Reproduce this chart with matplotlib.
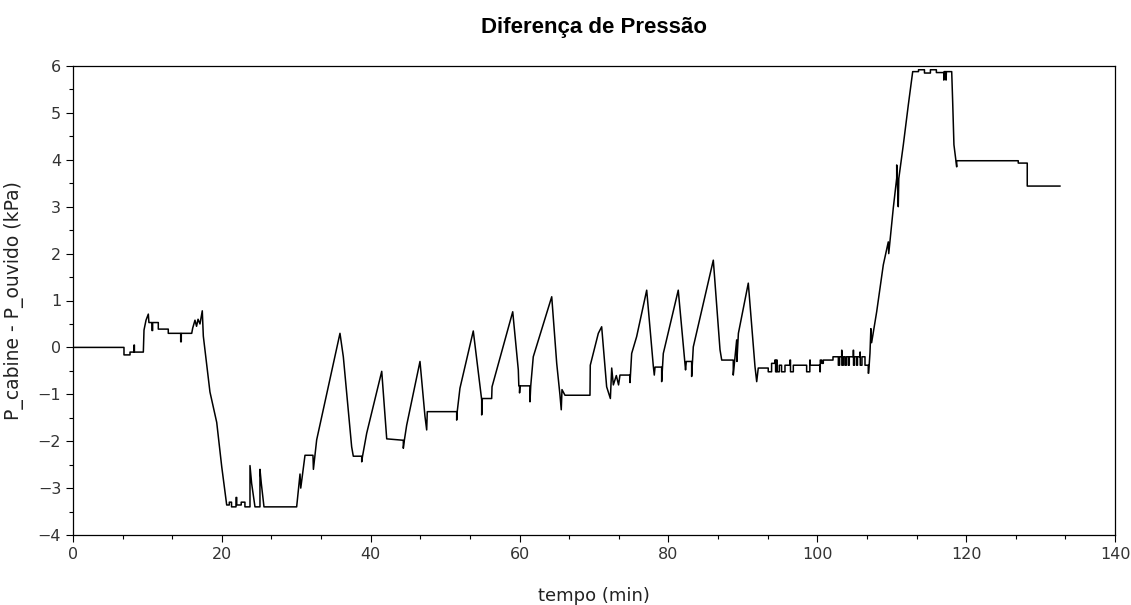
import matplotlib
matplotlib.use("Agg")
import matplotlib.pyplot as plt
from matplotlib.ticker import MultipleLocator

plt.rcParams['font.family'] = ['DejaVu Sans']

# vertices (tempo in min, dP in kPa)
tempo = [
    0, 6.85, 6.85, 7.66, 7.66, 8.2, 8.2, 8.25, 8.25, 9.45, 9.54, 9.81, 10.12, 10.2,
    10.61, 10.61, 10.7, 10.7, 11.46, 11.46, 12.8, 12.8, 14.47, 14.47, 14.55, 14.55,
    15.95, 16.08, 16.39, 16.6, 16.8, 17.06, 17.37, 17.51, 18.4, 19.31, 19.98, 20.65,
    21.0, 21.0, 21.3, 21.3, 21.9, 21.9, 22.0, 22.0, 22.6, 22.6, 23.1, 23.1,
    23.78, 23.78, 24.0, 24.45, 25.12, 25.12, 25.3, 25.66,
    30.05, 30.5, 30.6, 31.17, 32.24, 32.3, 32.74, 35.87, 36.32, 37.44, 37.66, 38.79,
    38.79, 38.9, 39.46, 41.48, 42.15, 44.38, 44.38, 44.5, 44.83, 46.62, 47.29, 47.52,
    47.6, 51.55, 51.55, 51.6, 51.99, 53.78, 54.91, 54.91, 55.0, 56.25, 56.3, 59.08,
    59.83, 59.9, 60.0, 60.0, 60.05, 61.4, 61.4, 61.5, 61.84, 63.64, 64.32, 64.99,
    65.43, 65.6, 65.7, 66.1, 69.46, 69.5, 70.58, 71.03, 71.7, 72.2, 72.38, 72.6,
    73.0, 73.3, 73.49, 74.84, 74.84, 75.06, 75.73, 77.08, 77.97, 78.1, 78.2, 79.09,
    79.09, 79.31, 81.32, 82.23, 82.3, 82.4, 83.12, 83.12, 83.34, 86.03, 86.93, 87.16,
    88.71, 88.71, 89.17, 89.2, 89.4, 90.73, 91.63, 91.86, 92.07,
    93.41, 93.41, 93.86, 93.86, 94.3, 94.3, 94.4, 94.4, 94.5, 94.5, 94.6, 94.6,
    94.9, 94.9, 95.2, 95.2, 95.66, 95.66, 96.33, 96.33, 96.4, 96.4, 96.78, 96.78,
    98.57, 98.57, 99.0, 99.0, 99.05, 99.05, 100.36, 100.36, 100.4, 100.4, 100.6,
    100.6, 100.81, 100.81, 102.11, 102.11, 102.83, 102.83, 103.0, 103.0, 103.28,
    103.28, 103.3, 103.3, 103.5, 103.5, 103.72, 103.72, 103.9, 103.9, 104.17, 104.17,
    104.3, 104.3, 104.84, 104.84, 104.87, 104.87, 105.0, 105.0, 105.29, 105.29, 105.4,
    105.4, 105.74, 105.74, 105.77, 105.77, 106.0, 106.0, 106.41, 106.41, 106.85,
    106.85, 106.9, 107.08, 107.2, 107.3, 107.98, 108.87, 109.54, 109.6, 110.21,
    110.67, 110.67, 110.75, 110.88, 110.95, 111.56, 112.23, 112.82,
    113.6, 113.6, 114.4, 114.4, 115.2, 115.2, 116.0, 116.0, 117.0, 117.0,
    117.05, 117.3, 117.3, 117.35, 118.06, 118.19, 118.36, 118.73, 118.73, 127.0,
    127.0, 128.21, 128.21, 132.6,
]
dp = [
    0, 0, -0.16, -0.16, -0.1, -0.1, 0.05, 0.05, -0.1, -0.1, 0.37, 0.58, 0.71, 0.53,
    0.53, 0.36, 0.36, 0.53, 0.53, 0.39, 0.39, 0.3, 0.3, 0.12, 0.12, 0.3,
    0.3, 0.41, 0.58, 0.45, 0.6, 0.5, 0.78, 0.24, -0.95, -1.6, -2.54, -3.36,
    -3.36, -3.3, -3.3, -3.4, -3.4, -3.2, -3.2, -3.36, -3.36, -3.3, -3.3, -3.4,
    -3.4, -2.52, -2.9, -3.4, -3.4, -2.6, -2.9, -3.4,
    -3.4, -2.7, -3.0, -2.3, -2.3, -2.6, -1.97, 0.3, -0.2, -2.12, -2.32, -2.32,
    -2.44, -2.32, -1.83, -0.51, -1.95, -1.98, -2.15, -2.0, -1.66, -0.3, -1.47, -1.76,
    -1.37, -1.37, -1.55, -1.4, -0.87, 0.35, -1.12, -1.44, -1.09, -1.09, -0.84, 0.76,
    -0.48, -0.82, -0.82, -0.97, -0.82, -0.82, -1.16, -0.82, -0.2, 0.73, 1.08, -0.34,
    -1.02, -1.33, -0.9, -1.02, -1.02, -0.38, 0.3, 0.44, -0.84, -1.09, -0.44, -0.8,
    -0.6, -0.8, -0.59, -0.59, -0.75, -0.13, 0.23, 1.22, -0.4, -0.59, -0.42, -0.42,
    -0.73, -0.13, 1.22, -0.34, -0.48, -0.3, -0.3, -0.62, 0.01, 1.86, -0.05, -0.27,
    -0.27, -0.59, 0.16, -0.3, 0.3, 1.37, -0.41, -0.73, -0.44,
    -0.44, -0.52, -0.52, -0.34, -0.34, -0.27, -0.27, -0.52, -0.52, -0.27, -0.27, -0.52,
    -0.52, -0.38, -0.38, -0.52, -0.52, -0.38, -0.38, -0.27, -0.27, -0.52, -0.52, -0.38,
    -0.38, -0.52, -0.52, -0.27, -0.27, -0.38, -0.38, -0.52, -0.52, -0.27, -0.27,
    -0.34, -0.34, -0.27, -0.27, -0.2, -0.2, -0.38, -0.38, -0.2, -0.2,
    -0.06, -0.06, -0.38, -0.38, -0.2, -0.2, -0.38, -0.38, -0.2, -0.2, -0.38,
    -0.38, -0.2, -0.2, -0.06, -0.06, -0.38, -0.38, -0.2, -0.2, -0.38, -0.38,
    -0.2, -0.2, -0.1, -0.1, -0.38, -0.38, -0.2, -0.2, -0.38, -0.38,
    -0.55, -0.55, -0.12, 0.4, 0.1, 0.76, 1.76, 2.25, 2.0, 2.97,
    3.61, 3.89, 3.61, 3.0, 3.6, 4.32, 5.17, 5.88,
    5.88, 5.92, 5.92, 5.85, 5.85, 5.92, 5.92, 5.86, 5.86, 5.7,
    5.88, 5.88, 5.7, 5.88, 5.88, 5.24, 4.32, 3.85, 3.98, 3.98,
    3.93, 3.93, 3.44, 3.44,
]

fig = plt.figure(figsize=(11.31, 6.05), dpi=100)
ax = fig.add_axes([73 / 1131, 1 - 535 / 605, (1115 - 73) / 1131, (535 - 66) / 605])

ax.plot(tempo, dp, color='k', linewidth=1.1)

ax.set_xlim(0, 140)
ax.set_ylim(-4, 6)
ax.xaxis.set_major_locator(MultipleLocator(20))
ax.xaxis.set_minor_locator(MultipleLocator(20 / 3))
ax.yaxis.set_major_locator(MultipleLocator(1))
ax.yaxis.set_minor_locator(MultipleLocator(0.5))
ax.tick_params(which='major', direction='out', length=5, width=0.8, labelsize=11.5,
               labelcolor='#333333', top=False, right=False)
ax.tick_params(which='minor', direction='out', length=3, width=0.8, top=False, right=False)
for s in ax.spines.values():
    s.set_linewidth(0.9)

ax.set_title('Diferença de Pressão', fontsize=16, fontweight='bold', pad=24,
             family=['Liberation Sans', 'DejaVu Sans'])
ax.set_xlabel('tempo (min)', fontsize=13, labelpad=18, color='#222222')
ax.set_ylabel('P_cabine - P_ouvido (kPa)', fontsize=13.5, labelpad=10, color='#222222')

fig.savefig('out.png', dpi=100)
